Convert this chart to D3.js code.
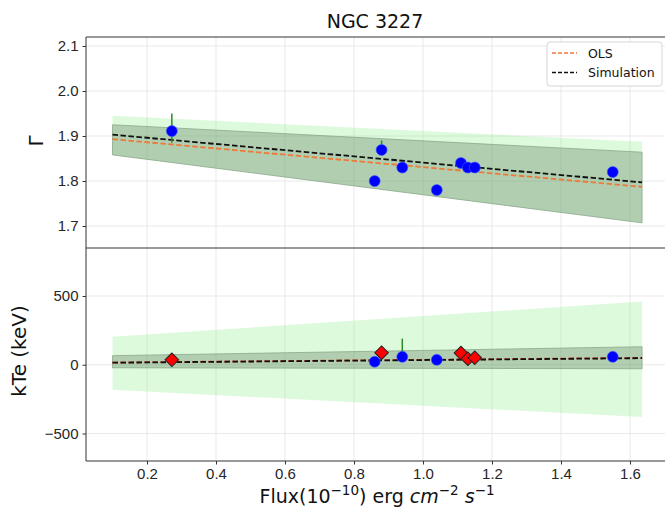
<!DOCTYPE html>
<html>
<head>
<meta charset="utf-8">
<style>
  body { margin: 0; background: white; }
  svg { font-family: "DejaVu Sans", sans-serif; }
</style>
</head>
<body>
<div class="container"></div>
<script src="https://cdn.jsdelivr.net/npm/d3@7"></script>
<script>
// ---- data ----
var title = "NGC 3227"
var xTicks = [0.2, 0.4, 0.6, 0.8, 1.0, 1.2, 1.4, 1.6]
var gTicks = [1.7, 1.8, 1.9, 2.0, 2.1]
var kTicks = [-500, 0, 500]

// photon index points
var gFlux = [0.272, 0.86, 0.88, 0.94, 1.04, 1.11, 1.13, 1.15, 1.55]
var gVal  = [1.911, 1.80, 1.869, 1.83, 1.78, 1.84, 1.83, 1.83, 1.82]
var gErrX  = [0.272, 0.88]
var gErrLo = [1.885, 1.862]
var gErrHi = [1.95, 1.89]

// fit lines and bands (Gamma), at the two ends of flux range
var fitX = [0.1, 1.635]
var gOls = [1.893, 1.787]
var gSim = [1.903, 1.797]
var gBandLo = [1.858, 1.707]
var gBandHi = [1.925, 1.864]
var gWideLo = [1.858, 1.707]
var gWideHi = [1.945, 1.887]

// kTe points
var kCircX = [0.86, 0.94, 1.04, 1.55]
var kCircY = [22, 58, 36, 58]
var kDiaX = [0.272, 0.88, 1.11, 1.13, 1.15]
var kDiaY = [36, 88, 85, 44, 51]
var kErrX = [0.94]
var kErrLo = [30]
var kErrHi = [190]

var kOls = [16, 50]
var kSim = [15, 48]
var kBandLo = [-22, -29]
var kBandHi = [66, 131]
var kWideLo = [-182, -380]
var kWideHi = [204, 460]

// ---- layout ----
var W = 665, H = 509
var left = 86, right = 690
var top1 = 37, bot1 = 248, top2 = 248, bot2 = 461

var svg = d3.select(".container").append("svg")
  .attr("width", W).attr("height", H)

var x = d3.scaleLinear().domain([0.2, 1.6]).range([147, 630])
var yG = d3.scaleLinear().domain([1.7, 2.1]).range([226, 46])
var yK = d3.scaleLinear().domain([-500, 500]).range([433.5, 296])

var fmt = function(v) { return (v < 0 ? "\u2212" : "") + Math.abs(v) }

function panel(y, yt, y0, y1, tf) {
  var g = svg.append("g")
  // grid
  g.selectAll(".vg").data(xTicks).enter().append("line")
    .attr("x1", d => x(d)).attr("x2", d => x(d))
    .attr("y1", y0).attr("y2", y1)
    .attr("stroke", "#e3e3e3").attr("stroke-width", 0.8)
  g.selectAll(".hg").data(yt).enter().append("line")
    .attr("x1", left).attr("x2", right)
    .attr("y1", d => y(d)).attr("y2", d => y(d))
    .attr("stroke", "#e3e3e3").attr("stroke-width", 0.8)
  // y axis
  var ax = svg.append("g").attr("transform", "translate(" + left + ",0)")
    .call(d3.axisLeft(y).tickValues(yt).tickFormat(tf).tickSize(3.5).tickPadding(4))
  ax.select(".domain").remove()
  ax.selectAll("text").style("font-size", "15px").attr("fill", "#262626")
  ax.selectAll("line").attr("stroke", "#333")
  return g
}

var g1 = panel(yG, gTicks, top1, bot1, d3.format(".1f"))
var g2 = panel(yK, kTicks, top2, bot2, fmt)

function band(g, y, lo, hi, fill, op, edge) {
  var pts = fitX.map((d, i) => [x(d), y(hi[i])])
    .concat(fitX.slice().reverse().map((d, i) => [x(d), y(lo[lo.length - 1 - i])]))
  g.append("path")
    .attr("d", "M" + pts.join("L") + "Z")
    .attr("fill", fill).attr("fill-opacity", op)
    .attr("stroke", edge || "none").attr("stroke-width", 0.8)
}
function fitLine(g, y, vals, col) {
  g.append("path")
    .attr("d", d3.line().x(d => x(d[0])).y(d => y(d[1]))(fitX.map((d, i) => [d, vals[i]])))
    .attr("fill", "none").attr("stroke", col).attr("stroke-width", 1.8)
    .attr("stroke-dasharray", "5.5,2.5")
}

// upper panel
band(g1, yG, gWideLo, gWideHi, "#90ee90", 0.3)
band(g1, yG, gBandLo, gBandHi, "#4b6b4b", 0.3, "#8aa88a")
fitLine(g1, yG, gOls, "#ee7a3a")
fitLine(g1, yG, gSim, "#111")
g1.selectAll(".eb").data(gErrX).enter().append("line")
  .attr("x1", d => x(d)).attr("x2", d => x(d))
  .attr("y1", (d, i) => yG(gErrLo[i])).attr("y2", (d, i) => yG(gErrHi[i]))
  .attr("stroke", "#2a8a2a").attr("stroke-width", 1.5)
g1.selectAll(".pt").data(gFlux).enter().append("circle")
  .attr("cx", d => x(d)).attr("cy", (d, i) => yG(gVal[i])).attr("r", 5.5)
  .attr("fill", "#0000ff").attr("stroke", "#3a5cff").attr("stroke-width", 0.6)

// lower panel
band(g2, yK, kWideLo, kWideHi, "#90ee90", 0.3)
band(g2, yK, kBandLo, kBandHi, "#4b6b4b", 0.3, "#8aa88a")
fitLine(g2, yK, kOls, "#ee4a2a")
fitLine(g2, yK, kSim, "#111")
g2.selectAll(".eb").data(kErrX).enter().append("line")
  .attr("x1", d => x(d)).attr("x2", d => x(d))
  .attr("y1", (d, i) => yK(kErrLo[i])).attr("y2", (d, i) => yK(kErrHi[i]))
  .attr("stroke", "#2a8a2a").attr("stroke-width", 1.5)
g2.selectAll(".pt").data(kCircX).enter().append("circle")
  .attr("cx", d => x(d)).attr("cy", (d, i) => yK(kCircY[i])).attr("r", 5.5)
  .attr("fill", "#0000ff").attr("stroke", "#3a5cff").attr("stroke-width", 0.6)
g2.selectAll(".dm").data(kDiaX).enter().append("path")
  .attr("d", d3.symbol().type(d3.symbolSquare).size(92))
  .attr("transform", (d, i) => "translate(" + x(d) + "," + yK(kDiaY[i]) + ") rotate(45)")
  .attr("fill", "#ff0000").attr("stroke", "#222").attr("stroke-width", 1)

// x axis
var xa = svg.append("g").attr("transform", "translate(0," + bot2 + ")")
  .call(d3.axisBottom(x).tickValues(xTicks).tickFormat(d3.format(".1f")).tickSize(3.5).tickPadding(4))
xa.select(".domain").remove()
xa.selectAll("text").style("font-size", "15px").attr("fill", "#262626")
xa.selectAll("line").attr("stroke", "#333")

// spines
var sp = [[left, top1, right, top1], [left, top1, left, bot2], [left, bot1, right, bot1], [left, bot2, right, bot2]]
svg.selectAll(".sp").data(sp).enter().append("line")
  .attr("x1", d => d[0]).attr("y1", d => d[1]).attr("x2", d => d[2]).attr("y2", d => d[3])
  .attr("stroke", "#333").attr("stroke-width", 1)

// title and labels
svg.append("text").attr("x", 375).attr("y", 28).attr("text-anchor", "middle")
  .style("font-size", "19px").attr("fill", "#111").text(title)
svg.append("text").attr("transform", "translate(43,141) rotate(-90)").attr("text-anchor", "middle")
  .style("font-size", "20px").attr("fill", "#111").text("\u0393")
svg.append("text").attr("transform", "translate(26,351) rotate(-90)").attr("text-anchor", "middle")
  .style("font-size", "20px").attr("fill", "#111").text("kTe (keV)")

var xl = svg.append("text").attr("x", 377).attr("y", 503).attr("text-anchor", "middle")
  .style("font-size", "19px").attr("fill", "#111")
xl.append("tspan").text("Flux(10")
xl.append("tspan").attr("dy", -8).style("font-size", "13.5px").text("\u221210")
xl.append("tspan").attr("dy", 8).text(") erg ")
xl.append("tspan").style("font-style", "italic").text("cm")
xl.append("tspan").attr("dy", -8).style("font-size", "13.5px").text("\u22122")
xl.append("tspan").attr("dy", 8).text(" ")
xl.append("tspan").style("font-style", "italic").text("s")
xl.append("tspan").attr("dy", -8).style("font-size", "13.5px").text("\u22121")

// legend
var lg = svg.append("g")
lg.append("rect").attr("x", 547).attr("y", 42).attr("width", 115).attr("height", 44).attr("rx", 3)
  .attr("fill", "white").attr("fill-opacity", 0.85).attr("stroke", "#d6d6d6")
var items = [["OLS", "#ee7a3a"], ["Simulation", "#111"]]
items.forEach(function(it, i) {
  var yy = 53 + i * 19.5
  lg.append("line").attr("x1", 552).attr("x2", 577).attr("y1", yy).attr("y2", yy)
    .attr("stroke", it[1]).attr("stroke-width", 1.5).attr("stroke-dasharray", "4,2")
  lg.append("text").attr("x", 588).attr("y", yy + 4.5).style("font-size", "12.5px")
    .attr("fill", "#111").text(it[0])
})
</script>
</body>
</html>
